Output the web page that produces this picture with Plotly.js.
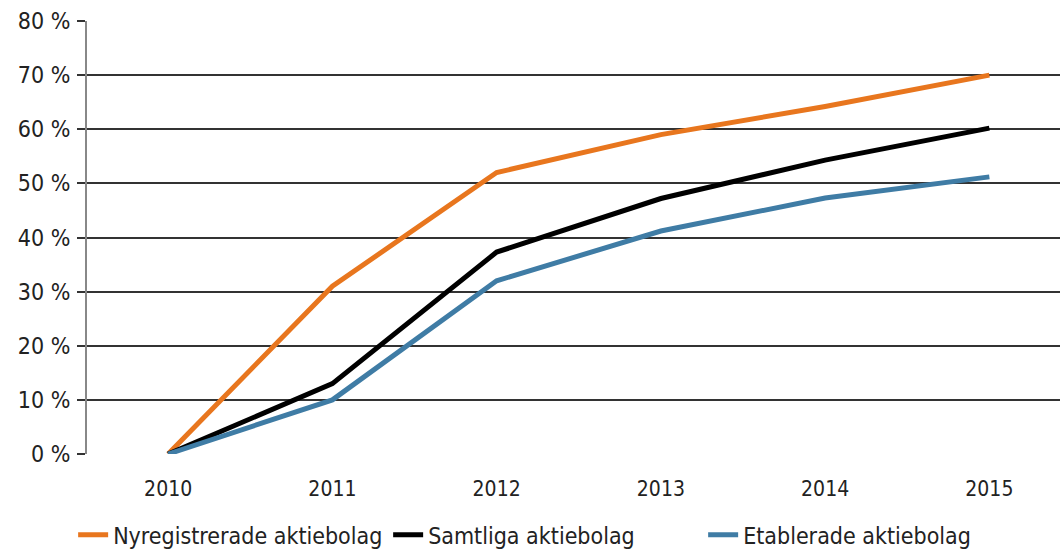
<!DOCTYPE html>
<html><head><meta charset="utf-8">
<script src="https://cdn.plot.ly/plotly-3.0.1.min.js"></script>
<style>body{margin:0;background:#fff}#c{width:1060px;height:549px}</style>
</head><body><div id="c"></div>
<script>
const years = ['2010','2011','2012','2013','2014','2015'];
const nyregistrerade = [0, 31, 52, 59, 64.2, 70];
const samtliga = [0, 13, 37.3, 47.2, 54.3, 60.2];
const etablerade = [0, 10, 32, 41.2, 47.3, 51.2];
const yTicks = [0,10,20,30,40,50,60,70,80];
const yTickText = yTicks.map(v => v + ' %');
const font = 'DejaVu Sans Condensed, sans-serif';
const traces = [
 {x: years, y: nyregistrerade, name: 'Nyregistrerade aktiebolag', mode: 'lines', line: {color: '#E8761E', width: 5}},
 {x: years, y: samtliga, name: 'Samtliga aktiebolag', mode: 'lines', line: {color: '#000000', width: 5}},
 {x: years, y: etablerade, name: 'Etablerade aktiebolag', mode: 'lines', line: {color: '#3F7CA5', width: 5}}
];
const layout = {
 width: 1060, height: 549,
 margin: {l: 87, r: 0, t: 21, b: 95, autoexpand: false},
 paper_bgcolor: '#fff', plot_bgcolor: '#fff',
 font: {family: font, size: 21, color: '#222'},
 xaxis: {type: 'category', range: [-0.494, 5.43], showgrid: false, zeroline: false,
   showline: false, ticks: '', tickfont: {size: 21}, ticklabelstandoff: 20},
 yaxis: {range: [0, 80], tickvals: yTicks, ticktext: yTickText, showgrid: true,
   gridcolor: '#333', gridwidth: 1.5, zeroline: false, showline: true, linecolor: '#888',
   linewidth: 2, ticks: 'outside', ticklen: 8, tickcolor: '#333', tickwidth: 1.5,
   tickfont: {size: 23}, ticklabelstandoff: 2},
 showlegend: true,
 legend: {orientation: 'h', xref: 'container', x: 0.069, xanchor: 'left', yref: 'container', y: 0.026, yanchor: 'middle',
   font: {size: 23, color: '#222'}, tracegroupgap: 0, entrywidth: 270, bgcolor: 'rgba(0,0,0,0)'}
};
Plotly.newPlot('c', traces, layout, {displayModeBar: false});
</script></body></html>
